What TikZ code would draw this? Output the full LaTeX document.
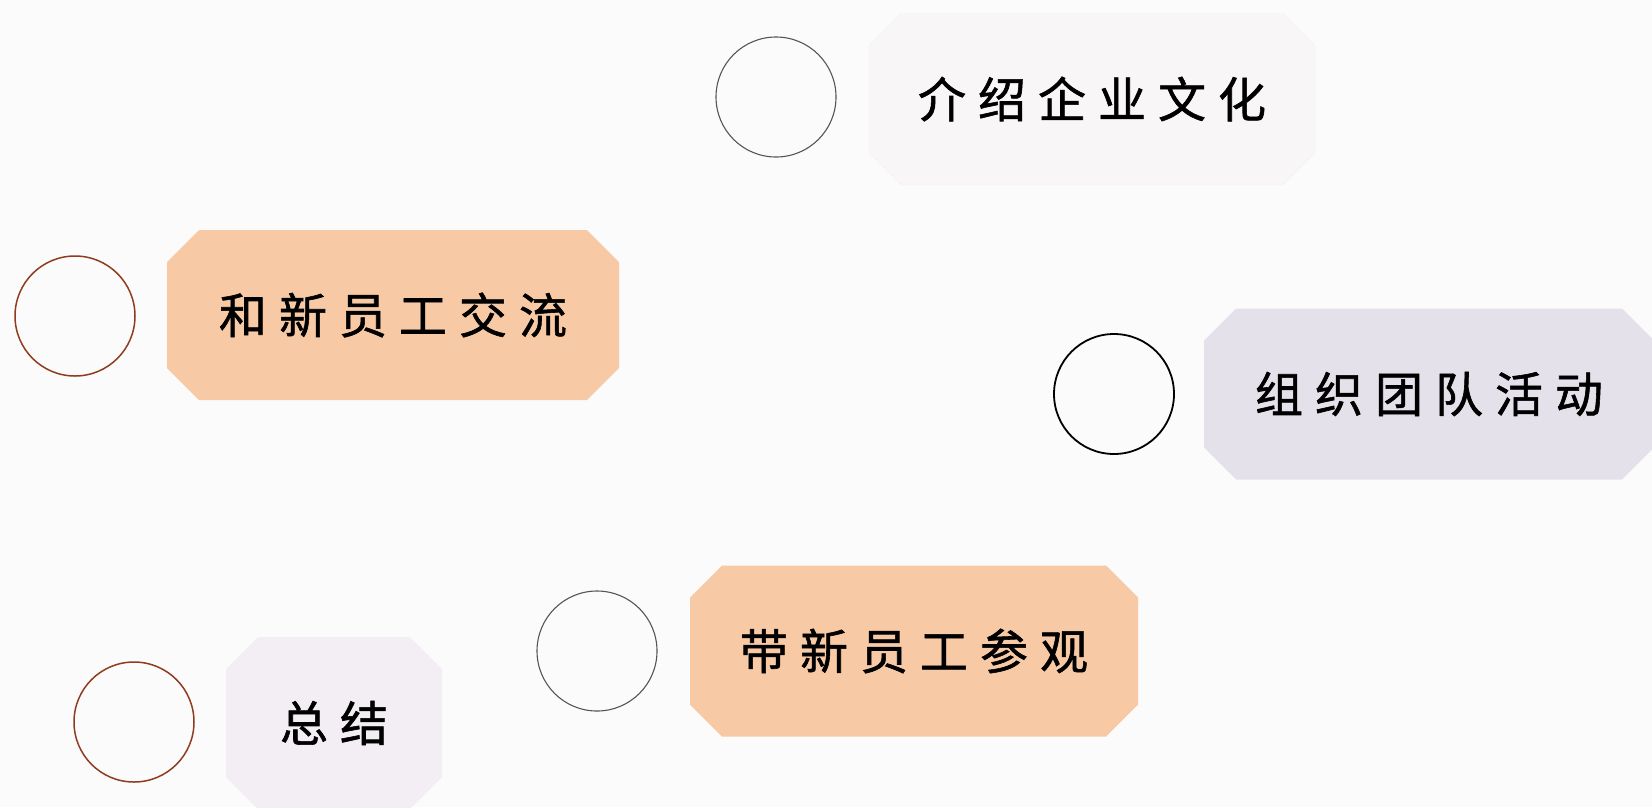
\documentclass[tikz,border=0pt]{standalone}
\usepackage{fontspec}
\newfontfamily\cjk[FakeBold=1.2]{Noto Sans CJK SC}
\usetikzlibrary{shapes.misc}
\definecolor{bg}{HTML}{FBFBFB}
\definecolor{peach}{HTML}{F7CAA5}
\definecolor{lilac}{HTML}{E4E1EA}
\definecolor{pinkish}{HTML}{F3EEF4}
\definecolor{paleone}{HTML}{F8F6F6}
\definecolor{brownline}{HTML}{8E3B1E}
\definecolor{grayline}{HTML}{555555}
\newcommand\gp{\hspace{12pt}}
\tikzset{
  box/.style={chamfered rectangle, chamfered rectangle xsep=16pt, chamfered rectangle ysep=16pt,
    inner sep=0pt, draw=none, font=\cjk\fontsize{48}{48}\selectfont, text=black},
  ring/.style={circle, minimum size=120pt, inner sep=0pt, line width=1.5pt},
}
\begin{document}
\begin{tikzpicture}[x=1pt,y=-1pt]
\fill[bg] (0,0) rectangle (1652,807);
\useasboundingbox (0,0) rectangle (1652,807);
% boxes
\node[box, fill=paleone, draw=black!5, minimum width=446pt, minimum height=171pt] (b1) at (1092,99) {介\gp 绍\gp 企\gp 业\gp 文\gp 化};
\node[box, fill=peach, minimum width=452pt, minimum height=170pt] (b2) at (393,315) {和\gp 新\gp 员\gp 工\gp 交\gp 流};
\node[box, fill=lilac, minimum width=450pt, minimum height=171pt] (b3) at (1429,394) {组\gp 织\gp 团\gp 队\gp 活\gp 动};
\node[box, fill=pinkish, minimum width=216pt, minimum height=172pt] (b4) at (334,723) {总\gp 结};
\node[box, fill=peach, minimum width=448pt, minimum height=171pt] (b5) at (914,651) {带\gp 新\gp 员\gp 工\gp 参\gp 观};
% circles
\node[ring, draw=grayline, line width=1.1pt] (c1) at (776,97) {};
\node[ring, draw=brownline] (c2) at (75,316) {};
\node[ring, draw=black, line width=1.8pt] (c3) at (1114,394) {};
\node[ring, draw=brownline] (c4) at (134,722) {};
\node[ring, draw=grayline, line width=1.1pt] (c5) at (597,651) {};
\end{tikzpicture}
\end{document}
